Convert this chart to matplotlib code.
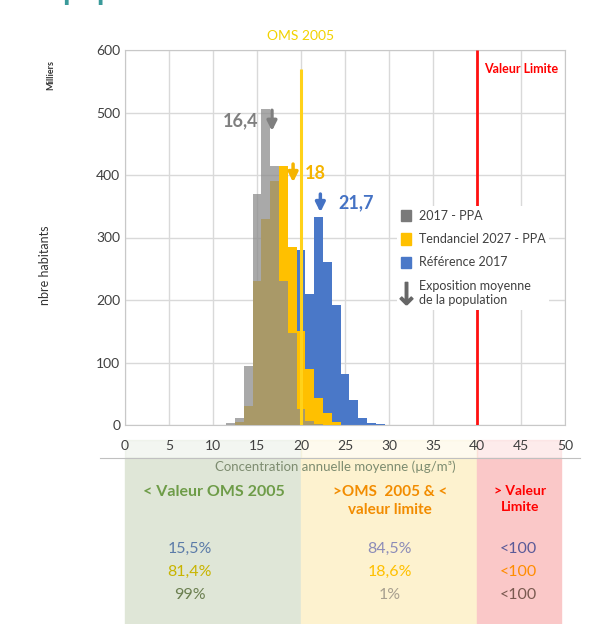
import matplotlib.pyplot as plt
from matplotlib.patches import Patch, Rectangle
from matplotlib.lines import Line2D
from matplotlib.transforms import blended_transform_factory

plt.rcParams['font.family'] = ['Lato', 'DejaVu Sans']

# concentration classes (µg/m3), population in thousands
conc = [12, 13, 14, 15, 16, 17, 18, 19, 20, 21, 22, 23, 24, 25, 26, 27, 28, 29]
pop_2017_ppa = [4, 12, 95, 370, 505, 415, 230, 147, 25, 6, 2, 0, 0, 0, 0, 0, 0, 0]
pop_tend_2027 = [0, 5, 30, 230, 330, 390, 415, 285, 150, 90, 43, 19, 5, 0, 0, 0, 0, 0]
pop_ref_2017 = [0, 0, 0, 5, 20, 45, 80, 110, 280, 210, 333, 261, 192, 82, 40, 12, 4, 1]

# mean exposure arrows
expo_labels = ["16,4", "18", "21,7"]
expo_x = [16.7, 19.1, 22.2]
expo_top = [508, 422, 374]
expo_tip = [466, 384, 336]

oms_2005 = 20
valeur_limite = 40

zones = ["< Valeur OMS 2005", ">OMS  2005 & <\nvaleur limite", "> Valeur\nLimite"]
zone_bounds = [(0, 20), (20, 40), (40, 49.6)]
pct_2017_ref = ["15,5%", "84,5%", "<100"]
pct_tend_2027 = ["81,4%", "18,6%", "<100"]
pct_2017_ppa = ["99%", "1%", "<100"]

c_grey = '#8c8c8c'
c_yellow = '#ffc000'
c_blue = '#4a78c8'

fig = plt.figure(figsize=(6.05, 6.24), dpi=100)
ax = fig.add_axes([125 / 605, 1 - 425 / 624, 440 / 605, 375 / 624])

ax.bar(conc, pop_ref_2017, width=1, color=c_blue, zorder=2)
ax.bar(conc, pop_tend_2027, width=1, color=c_yellow, zorder=3)
ax.bar(conc, pop_2017_ppa, width=1, color=c_grey, alpha=0.75, zorder=4)

ax.vlines(oms_2005, 0, 570, color='#ffd21a', lw=2.2, zorder=5)
ax.vlines(valeur_limite, 0, 600, color='#ff1010', lw=2, zorder=5)
ax.text(oms_2005, 612, "OMS 2005", color='#f2d200', fontsize=10, ha='center', va='bottom')
ax.text(valeur_limite + 0.8, 570, "Valeur Limite", color='#ff0000', fontsize=9,
        fontweight='bold', ha='left', va='center')

arrow_cols = ['#7f7f7f', '#f5b400', '#4472c4']
label_dx = [-1.6, 1.3, 2.0]
for lab, x, top, tip, col, dx in zip(expo_labels, expo_x, expo_top, expo_tip, arrow_cols, label_dx):
    ax.annotate("", xy=(x, tip), xytext=(x, top),
                arrowprops=dict(arrowstyle='-|>', color=col, lw=2.5, mutation_scale=14),
                zorder=6)
    ha = 'right' if dx < 0 else 'left'
    ax.text(x + dx, (top + tip) / 2, lab, color=col, fontsize=13, fontweight='bold',
            ha=ha, va='center', zorder=6)

ax.set_xlim(0, 50)
ax.set_ylim(0, 600)
ax.set_xticks(range(0, 51, 5))
ax.set_yticks(range(0, 601, 100))
ax.tick_params(length=0, labelsize=10, colors='#404040')
ax.tick_params(axis='x', pad=11)
ax.grid(True, color='#d9d9d9', lw=1, zorder=0)
ax.set_axisbelow(True)
for s in ax.spines.values():
    s.set_color('#c8c8c8')

fig.text(45 / 605, 1 - 265 / 624, "nbre habitants", rotation=90, fontsize=9,
         color='#333333', ha='center', va='center')
fig.text(51 / 605, 1 - 75 / 624, "Milliers", rotation=90, fontsize=6.5,
         color='#333333', ha='center', va='center', fontweight='bold')

handles = [Patch(color='#7a7a7a'), Patch(color=c_yellow), Patch(color=c_blue),
           Line2D([], [], ls='', marker=r'$\downarrow$', color='#666666', markersize=16)]
leg_labels = ["2017 - PPA", "Tendanciel 2027 - PPA", "Référence 2017",
              "Exposition moyenne\nde la population"]
leg = ax.legend(handles, leg_labels, loc='upper left', bbox_to_anchor=(0.605, 0.6),
                frameon=True, facecolor='white', edgecolor='none', framealpha=1,
                fontsize=9, handlelength=0.8, handleheight=1.0, handletextpad=0.6,
                labelspacing=0.9, borderpad=0.3)
for t in leg.get_texts():
    t.set_color('#404040')

# coloured summary panels under the chart
tr = blended_transform_factory(ax.transData, fig.transFigure)
panel_cols = ['#dfe6d7', '#fdf2cf', '#fac8c8']
for (x0, x1), col in zip(zone_bounds, panel_cols):
    fig.add_artist(Rectangle((x0, 0), x1 - x0, 1 - 458 / 624, transform=tr,
                             color=col, zorder=0))
    fig.add_artist(Rectangle((x0, 1 - 458 / 624), x1 - x0, 18 / 624, transform=tr,
                             color=col, alpha=0.35, zorder=0))
fig.add_artist(Line2D([100 / 605, 580 / 605], [1 - 458 / 624] * 2, color='#c0c0c0', lw=0.8))

fig.text(335 / 605, 1 - 467 / 624, "Concentration annuelle moyenne (µg/m³)", fontsize=9.5,
         color='#7d8c70', ha='center', va='center')

zone_x = [214, 390, 520]
zone_cols = ['#6e9c48', '#f28c00', '#ff0000']
zone_size = [11.5, 11, 10]
for lab, x, col, fs in zip(zones, zone_x, zone_cols, zone_size):
    fig.text(x / 605, 1 - 485 / 624, lab, fontsize=fs, color=col, fontweight='bold',
             ha='center', va='top', linespacing=1.4)

pct_x = [190, 390, 518]
row_cols = [['#5b7ba8', '#8c8cb8', '#5a5a98'],
            ['#c8b400', '#ffc000', '#ff8c00'],
            ['#6b7f50', '#a8a090', '#7a5a50']]
for row, (vals, cols) in enumerate(zip([pct_2017_ref, pct_tend_2027, pct_2017_ppa], row_cols)):
    y = 1 - (549 + row * 23) / 624
    for v, x, col in zip(vals, pct_x, cols):
        fig.text(x / 605, y, v, fontsize=11.5, color=col, ha='center', va='center')

# cut-off heading above the chart (only descenders visible)
fig.text(62 / 605, 1.0, "population", fontsize=22, color='#3a9a9a',
         fontweight='bold', ha='left', va='baseline')

fig.savefig("out.png", dpi=100)
